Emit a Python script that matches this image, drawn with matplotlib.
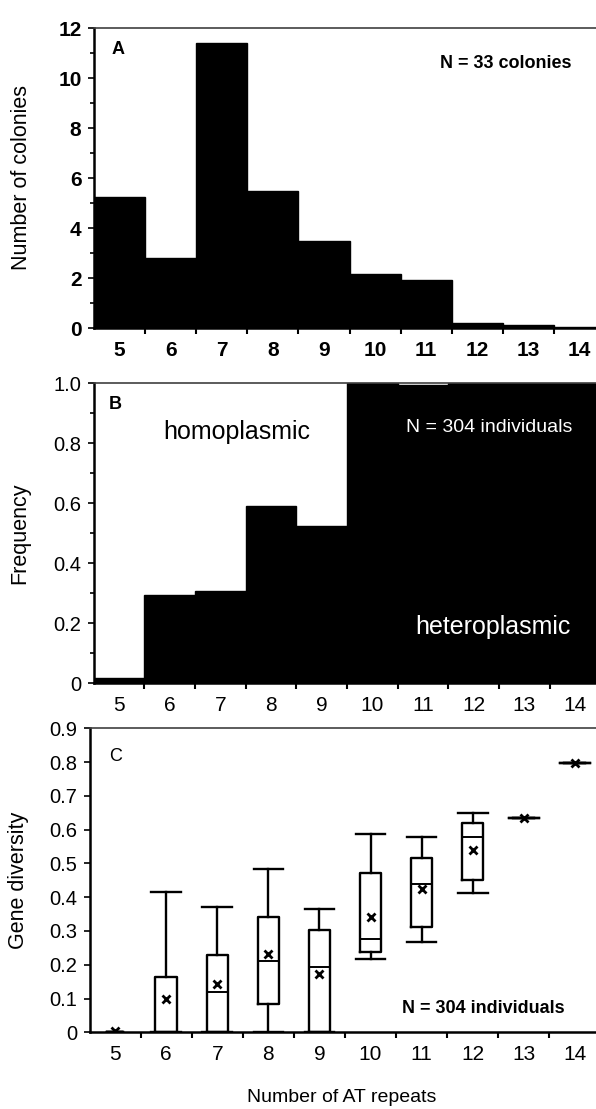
import matplotlib
matplotlib.use("Agg")
import matplotlib.pyplot as plt
import numpy as np

plt.rcParams['font.family'] = ['Liberation Sans', 'DejaVu Sans']

repeats = [5, 6, 7, 8, 9, 10, 11, 12, 13, 14]

# panel A: number of colonies per repeat number
colonies = [5.25, 2.8, 11.4, 5.5, 3.5, 2.15, 1.92, 0.2, 0.13, 0.03]

# panel B: frequency of heteroplasmic individuals
hetero_freq = [0.017, 0.294, 0.308, 0.59, 0.525, 1.0, 0.993, 1.0, 1.0, 1.0]

# panel C: gene diversity box summaries
div_whislo = [0, 0, 0, 0, 0, 0.216, 0.268, 0.413, 0.633, 0.796]
div_q1 = [0, 0, 0, 0.084, 0, 0.239, 0.313, 0.451, 0.633, 0.796]
div_med = [0, 0, 0.118, 0.212, 0.194, 0.275, 0.438, 0.579, 0.633, 0.796]
div_q3 = [0, 0.165, 0.229, 0.342, 0.303, 0.473, 0.517, 0.619, 0.633, 0.796]
div_whishi = [0, 0.416, 0.372, 0.483, 0.364, 0.586, 0.577, 0.648, 0.633, 0.796]
div_mean = [0.005, 0.098, 0.143, 0.232, 0.173, 0.340, 0.423, 0.540, 0.633, 0.796]

W, H = 596, 1109
fig = plt.figure(figsize=(W / 100, H / 100), dpi=100)
ax_a = fig.add_axes([94 / W, 1 - 328 / H, 511 / W, 300 / H])
ax_b = fig.add_axes([93.5 / W, 1 - 683.3 / H, 507 / W, 300 / H])
ax_c = fig.add_axes([89.5 / W, 1 - 1032.3 / H, 511 / W, 304 / H])

bounds = np.arange(5.5, 14.5, 1)


def style_axes(ax, bold):
    w = 'bold' if bold else 'normal'
    ax.set_xlim(4.5, 14.5)
    ax.set_xticks(repeats)
    ax.set_xticklabels([str(r) for r in repeats], fontsize=15, fontweight=w)
    ax.set_xticks(bounds, minor=True)
    ax.tick_params(axis='x', which='major', length=0, pad=9)
    ax.tick_params(axis='x', which='minor', length=4, width=1.5, direction='out')
    ax.tick_params(axis='y', which='both', direction='out', width=1.2)
    ax.tick_params(axis='y', which='major', length=4, pad=5)
    ax.tick_params(axis='y', which='minor', length=3)
    for lab in ax.get_yticklabels():
        lab.set_fontsize(15 if bold else 14.5)
        lab.set_fontweight(w)
    ax.spines['right'].set_visible(False)
    ax.spines['left'].set_linewidth(1.8)
    ax.spines['bottom'].set_linewidth(1.8)
    ax.spines['top'].set_linewidth(1.2)
    ax.spines['top'].set_color('0.25')


# A
ax_a.bar(repeats, colonies, width=1.0, color='black', edgecolor='black', linewidth=1)
ax_a.set_ylim(0, 12)
ax_a.set_yticks(range(0, 13, 2))
ax_a.set_yticks(range(1, 12, 2), minor=True)
style_axes(ax_a, True)
ax_a.set_ylabel("Number of colonies", fontsize=15.5, va='center')
ax_a.yaxis.set_label_coords(-0.141, 0.5)
ax_a.text(0.034, 0.927, "A", transform=ax_a.transAxes, fontsize=13,
          fontweight='bold', ha='left', va='center')
ax_a.text(0.677, 0.883, "N = 33 colonies", transform=ax_a.transAxes,
          fontsize=13, fontweight='bold', ha='left', va='center')

# B
ax_b.bar(repeats, hetero_freq, width=1.0, color='black', edgecolor='black', linewidth=1)
ax_b.set_ylim(0, 1.0)
ax_b.set_yticks([0, 0.2, 0.4, 0.6, 0.8, 1.0])
ax_b.set_yticklabels(["0", "0.2", "0.4", "0.6", "0.8", "1.0"])
ax_b.set_yticks([0.1, 0.3, 0.5, 0.7, 0.9], minor=True)
style_axes(ax_b, False)
ax_b.set_ylabel("Frequency", fontsize=15.5, va='center')
ax_b.yaxis.set_label_coords(-0.145, 0.5)
ax_b.text(0.031, 0.928, "B", transform=ax_b.transAxes, fontsize=13,
          fontweight='bold', ha='left', va='center')
ax_b.text(0.137, 0.838, "homoplasmic", transform=ax_b.transAxes,
          fontsize=18, ha='left', va='center', color='black')
ax_b.text(0.616, 0.854, "N = 304 individuals", transform=ax_b.transAxes,
          fontsize=14, ha='left', va='center', color='white')
ax_b.text(0.634, 0.188, "heteroplasmic", transform=ax_b.transAxes,
          fontsize=18, ha='left', va='center', color='white')

# C
stats = []
for i in range(len(repeats)):
    stats.append(dict(whislo=div_whislo[i], q1=div_q1[i], med=div_med[i],
                      q3=div_q3[i], whishi=div_whishi[i], mean=div_mean[i]))
box_w = [0.3] + [0.42] * 9
cap_w = [0.3] + [0.58] * 9
lp = dict(color='black', linewidth=1.7)
ax_c.bxp(stats, positions=repeats, widths=box_w, capwidths=cap_w,
         showmeans=True, showfliers=False, manage_ticks=False,
         boxprops=lp, whiskerprops=lp, capprops=lp,
         medianprops=dict(color='black', linewidth=1.4),
         meanprops=dict(marker='x', markeredgecolor='black',
                        markeredgewidth=2, markersize=6))
ax_c.set_ylim(0, 0.9)
ax_c.set_yticks(np.round(np.arange(0, 0.91, 0.1), 1))
ax_c.set_yticklabels(["0"] + ["%.1f" % v for v in np.arange(0.1, 0.91, 0.1)])
style_axes(ax_c, False)
ax_c.set_ylabel("Gene diversity", fontsize=15.5, va='center')
ax_c.yaxis.set_label_coords(-0.138, 0.5)
ax_c.set_xlabel("Number of AT repeats", fontsize=14, va='center')
ax_c.xaxis.set_label_coords(0.494, -0.216)
ax_c.text(0.039, 0.907, "C", transform=ax_c.transAxes, fontsize=13,
          ha='left', va='center')
ax_c.text(0.611, 0.079, "N = 304 individuals", transform=ax_c.transAxes,
          fontsize=13, fontweight='bold', ha='left', va='center')

fig.savefig("out.png", dpi=100)
